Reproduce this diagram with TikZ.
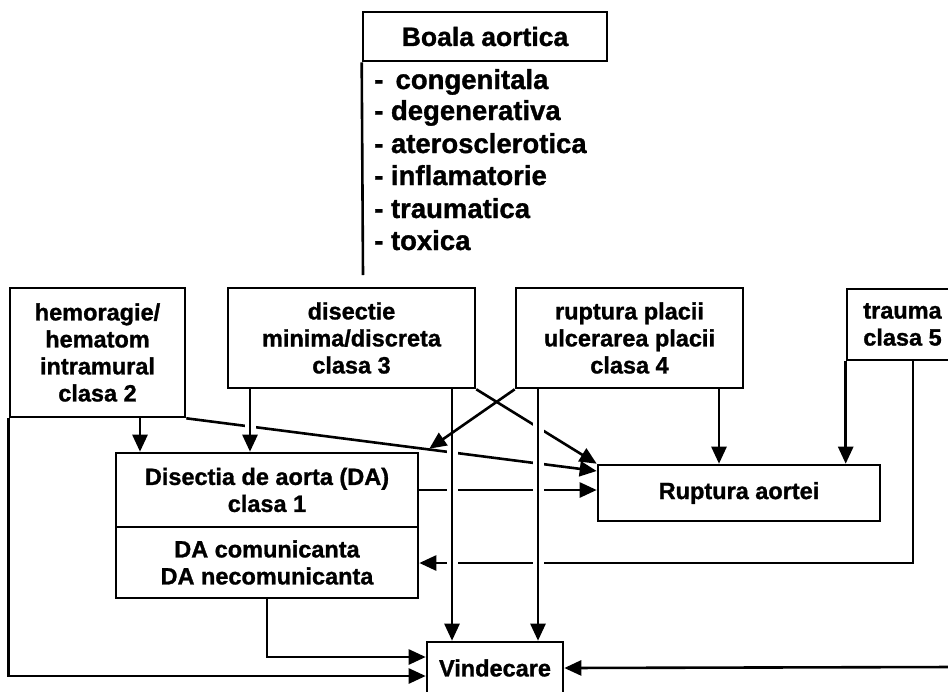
\documentclass[tikz,border=0pt]{standalone}
\usepackage{fontspec}
\setmainfont{Liberation Sans}[BoldFeatures={FakeBold=1.2}]
\usetikzlibrary{arrows.meta,calc}
\newcommand{\bxfont}{\bfseries\fontsize{23.5}{27}\selectfont}
\newcommand{\ttlfont}{\bfseries\fontsize{26.5}{30}\selectfont}
\newcommand{\lstfont}{\bfseries\fontsize{27.5}{30}\selectfont}
\begin{document}
\begin{tikzpicture}[x=1pt,y=-1pt,
  every node/.style={inner sep=0pt},
  box/.style={draw, line width=2.6pt, align=center, font=\bxfont},
  ln/.style={line width=2.6pt},
  arr/.style={line width=2.6pt, -{Triangle[length=17pt,width=15pt]}},
  gap/.style={white, line width=11pt}]
\useasboundingbox (0,0) rectangle (948,691);
\clip (0,0) rectangle (948,691);

% title and list
\node[box, minimum width=244pt, minimum height=49pt, font=\ttlfont] (title) at (485,36.5) {Boala aortica};
\coordinate (listend) at (363,275);
\draw[ln] (title.south west) -- (listend);
\node[anchor=base west, font=\lstfont] (l1) at (374,89) {-\, congenitala};
\node[anchor=base west, font=\lstfont] (l2) at (374,120) {- degenerativa};
\node[anchor=base west, font=\lstfont] (l3) at (374,153) {- aterosclerotica};
\node[anchor=base west, font=\lstfont] (l4) at (374,185) {- inflamatorie};
\node[anchor=base west, font=\lstfont] (l5) at (374,218) {- traumatica};
\node[anchor=base west, font=\lstfont] (l6) at (374,250) {- toxica};

% boxes
\node[box, minimum width=175pt, minimum height=129pt] (hem) at (97.5,352.5) {hemoragie/\\hematom\\intramural\\clasa 2};
\node[box, minimum width=247pt, minimum height=100pt] (dis) at (351.5,338) {disectie\\minima/discreta\\clasa 3};
\node[box, minimum width=227pt, minimum height=100pt] (rup) at (629.5,338) {ruptura placii\\ulcerarea placii\\clasa 4};
\node[box, minimum width=111pt, minimum height=71pt] (trauma) at (902.5,324.5) {trauma\\clasa 5};
\node[box, minimum width=302pt, minimum height=74pt] (da1) at (267,490) {Disectia de aorta (DA)\\clasa 1};
\node[box, minimum width=302pt, minimum height=71pt] (da2) at (267,562.5) {DA comunicanta\\DA necomunicanta};
\node[box, minimum width=282pt, minimum height=56pt] (ruptA) at (739,493) {Ruptura aortei};
\node[box, minimum width=136pt, minimum height=52pt] (vind) at (495,668) {Vindecare};
\coordinate (rin) at (955,667);

% lines that are crossed (drawn first)
\draw[arr] (hem.south east) -- (0,471 -| ruptA.west);
\draw[arr] (dis.south east) -- (ruptA.north west);
\draw[arr] (0,490 -| da1.east) -- (0,490 -| ruptA.west);
\draw[arr] (913,0 |- trauma.south) -- (913,563) -- (0,563 -| da2.east);

% gaps at crossings
\draw[gap] (250,398) -- (250,440);
\draw[gap] (452,398) -- (452,620);
\draw[gap] (538,398) -- (538,620);

% vertical and other connectors
\draw[arr] (140,0 |- hem.south) -- (140,0 |- da1.north);
\draw[arr] (250,0 |- dis.south) -- (250,0 |- da1.north);
\draw[arr] (452,0 |- dis.south) -- (452,0 |- vind.north);
\draw[arr] (538,0 |- rup.south) -- (538,0 |- vind.north);
\draw[arr] (719,0 |- rup.south) -- (719,0 |- ruptA.north);
\draw[arr] (trauma.south west) -- (trauma.south west |- ruptA.north);
\draw[arr] (rup.south west) -- ($(da1.north east)+(10,-3)$);
\draw[arr] (267,0 |- da2.south) |- (0,657 -| vind.west);
\draw[arr] (hem.south west) |- (0,676 -| vind.west);
\draw[arr] (rin) -- (vind.east);
\end{tikzpicture}
\end{document}
